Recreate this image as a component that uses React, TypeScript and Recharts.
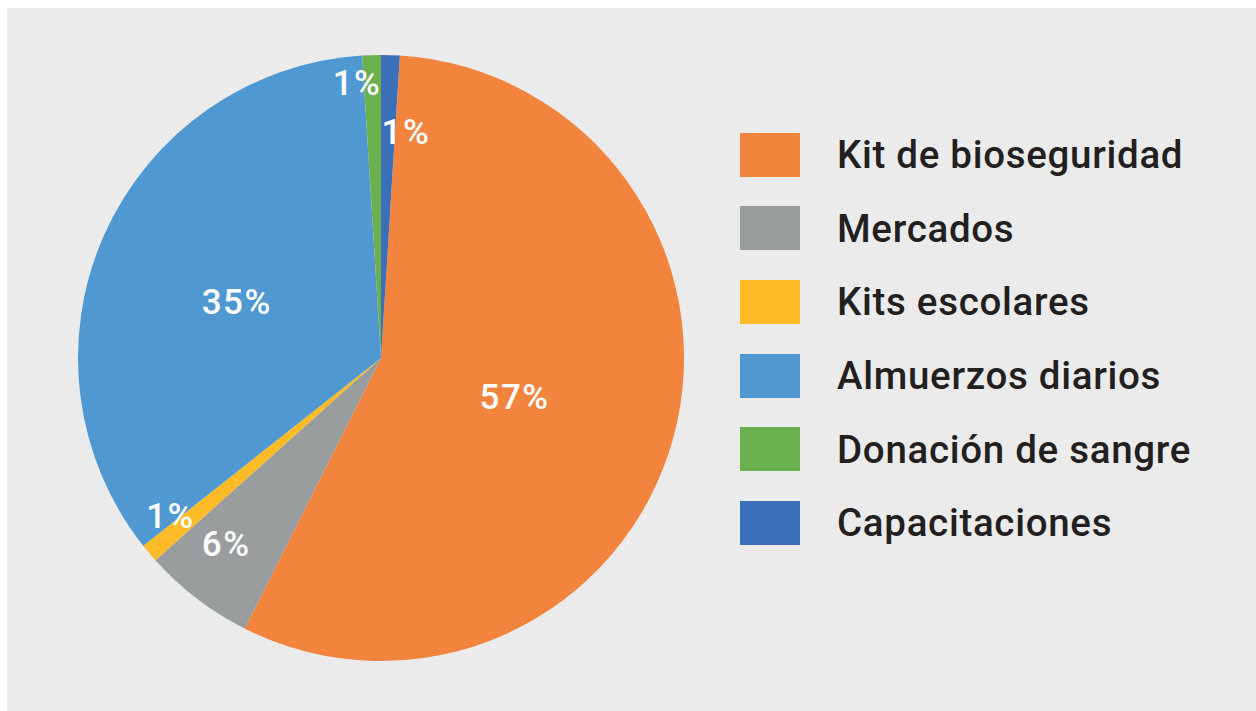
import { PieChart, Pie, Cell } from "recharts";

const categories = [
  "Kit de bioseguridad",
  "Mercados",
  "Kits escolares",
  "Almuerzos diarios",
  "Donación de sangre",
  "Capacitaciones",
];
const shares = [57, 6, 1, 35, 1, 1];
const colors = ["#f3843d", "#9a9d9e", "#fdbb27", "#4f98d2", "#6ab04f", "#3b70b9"];

// label placement: fraction of radius, and clockwise nudge (deg) off the mid-angle
const labelRadius = [0.46, 0.8, 0.87, 0.51, 0.91, 0.75];
const labelNudge = [1.5, 2.3, 3.1, -3.1, -3.2, 4.5];

const data = categories.map((name, i) => ({ name, value: shares[i] }));

const total = shares.reduce((a, b) => a + b, 0);
// last slice (Capacitaciones) sits just right of 12 o'clock
const startAngle = 90 - (shares[shares.length - 1] / total) * 360;

const FONT = "Roboto, 'DejaVu Sans', sans-serif";
const RAD = Math.PI / 180;

const renderLabel = (props: any) => {
  const { cx, cy, midAngle, outerRadius, index, value } = props;
  const r = outerRadius * labelRadius[index];
  const theta = (90 - midAngle + labelNudge[index]) * RAD; // clockwise from top
  const x = cx + r * Math.sin(theta);
  const y = cy - r * Math.cos(theta);
  return (
    <text
      x={x}
      y={y}
      fill="#ffffff"
      textAnchor="middle"
      dominantBaseline="central"
      fontFamily={FONT}
      fontWeight={500}
      fontSize={35}
      letterSpacing={1.5}
    >
      {value}%
    </text>
  );
};

const LegendBox = () => (
  <div
    style={{
      position: "absolute",
      left: 733,
      top: 110,
      fontFamily: FONT,
    }}
  >
    {categories.map((name, i) => (
      <div
        key={name}
        style={{ display: "flex", alignItems: "center", height: 73.6 }}
      >
        <div
          style={{ width: 60, height: 44, background: colors[i], marginRight: 37 }}
        />
        <span
          style={{
            fontSize: 38.5,
            fontWeight: 500,
            letterSpacing: 0.7,
            color: "#231f20",
            whiteSpace: "nowrap",
          }}
        >
          {name}
        </span>
      </div>
    ))}
  </div>
);

export default function App() {
  return (
    <div
      style={{
        position: "absolute",
        left: 7,
        top: 8,
        right: 0,
        bottom: 0,
        background: "#ebebeb",
        overflow: "hidden",
      }}
    >
      <PieChart
        width={1249}
        height={703}
        margin={{ top: 0, right: 0, bottom: 0, left: 0 }}
      >
        <Pie
          data={data}
          dataKey="value"
          nameKey="name"
          cx={374}
          cy={350}
          outerRadius={303}
          startAngle={startAngle}
          endAngle={startAngle - 360}
          stroke="none"
          label={renderLabel}
          labelLine={false}
          isAnimationActive={false}
        >
          {data.map((d, i) => (
            <Cell key={d.name} fill={colors[i]} />
          ))}
        </Pie>
      </PieChart>
      <LegendBox />
    </div>
  );
}
